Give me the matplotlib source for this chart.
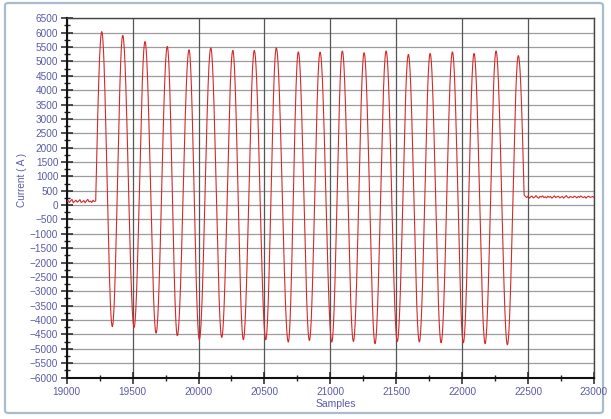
import numpy as np
import matplotlib
matplotlib.use("Agg")
import matplotlib.pyplot as plt
from matplotlib.patches import FancyBboxPatch
from matplotlib.ticker import MultipleLocator

# ---- data ----
peak_samples = [19266, 19425, 19594, 19763, 19928, 20093, 20260, 20423, 20590, 20757,
                20922, 21091, 21256, 21423, 21592, 21757, 21926, 22090, 22257, 22426]
peak_values = [6035, 5905, 5690, 5520, 5400, 5470, 5380, 5380, 5470, 5330,
               5320, 5360, 5300, 5360, 5240, 5275, 5330, 5275, 5360, 5200]
trough_samples = [19346, 19511, 19678, 19839, 20006, 20176, 20340, 20510, 20681, 20841,
                  21011, 21175, 21339, 21508, 21675, 21840, 22009, 22174, 22343]
trough_values = [-4230, -4255, -4455, -4545, -4685, -4605, -4685, -4685, -4765, -4710,
                 -4765, -4745, -4820, -4745, -4765, -4790, -4790, -4820, -4860]

# flat (no-load) segments before and after the burst, every 10 samples
left_samples = list(range(19000, 19230, 10))
left_values = [110, 160, 90, 150, 200, 80, 130, 170, 100, 140, 190, 90, 120, 160, 80,
               150, 200, 110, 140, 90, 170, 120, 150]
right_samples = list(range(22470, 23001, 10))
right_values = [350, 300, 260, 320, 240, 290, 310, 250, 280, 330, 270, 240, 300, 280, 320,
                260, 290, 250, 310, 270, 300, 240, 280, 320, 260, 290, 310, 250, 280, 300,
                240, 290, 330, 270, 250, 300, 280, 260, 310, 290, 250, 300, 270, 320, 280,
                260, 300, 240, 290, 310, 270, 280, 300, 260]

x_ticks = [19000, 19500, 20000, 20500, 21000, 21500, 22000, 22500, 23000]
y_ticks = list(range(-6000, 6501, 500))

# ---- build the trace: half-cosine arcs between successive read extremes ----
ext_t = []
ext_v = []
for i in range(len(peak_samples)):
    ext_t.append(peak_samples[i]); ext_v.append(peak_values[i])
    if i < len(trough_samples):
        ext_t.append(trough_samples[i]); ext_v.append(trough_values[i])

xs = list(left_samples)
ys = list(left_values)
t0, v0 = left_samples[-1], left_values[-1]
t1, v1 = ext_t[0], ext_v[0]
tt = np.arange(t0 + 1, t1 + 1)
xs += list(tt)
ys += list(v0 + (v1 - v0) * np.sin(0.5 * np.pi * (tt - t0) / (t1 - t0)))
for a, va, b, vb in zip(ext_t[:-1], ext_v[:-1], ext_t[1:], ext_v[1:]):
    tt = np.arange(a + 1, b + 1)
    xs += list(tt)
    ys += list((va + vb) / 2 + (va - vb) / 2 * np.cos(np.pi * (tt - a) / (b - a)))
a, va = ext_t[-1], ext_v[-1]
b, vb = right_samples[0], right_values[0]
tt = np.arange(a + 1, b)
xs += list(tt)
ys += list(vb + (va - vb) * np.cos(0.5 * np.pi * (tt - a) / (b - a)))
xs += right_samples
ys += right_values

# ---- figure ----
W, H = 611, 419
fig = plt.figure(figsize=(W / 100, H / 100), dpi=100)
fig.patch.set_facecolor("white")

border = FancyBboxPatch((5 / W, 6 / H), 598 / W, 410 / H,
                        boxstyle="round,pad=0,rounding_size=0.006",
                        transform=fig.transFigure, facecolor="none",
                        edgecolor="#a9bccd", linewidth=1.6, zorder=-1)
fig.patches.append(border)

ax = fig.add_axes([66.7 / W, 1 - 377.5 / H, (594 - 66.7) / W, (377.5 - 18.3) / H])
ax.set_facecolor("white")
ax.set_xlim(19000, 23000)
ax.set_ylim(-6000, 6500)

for yv in y_ticks:
    ax.axhline(yv, color="#9c9c9c", lw=0.9, zorder=1)
for xv in x_ticks:
    ax.axvline(xv, color="#555555", lw=0.9, zorder=1)

ax.plot(xs, ys, color="#d42a2a", lw=0.8, zorder=3)

ax.set_xticks(x_ticks)
ax.set_yticks(y_ticks)
ax.xaxis.set_minor_locator(MultipleLocator(250))
ax.yaxis.set_minor_locator(MultipleLocator(250))
lab_col = "#5a5aa8"
ax.tick_params(axis="both", which="major", direction="inout", length=8, width=1.1,
               color="#222222", labelsize=7.2, labelcolor=lab_col)
ax.tick_params(axis="both", which="minor", direction="inout", length=5, width=1.0,
               color="#222222")
ax.tick_params(axis="y", pad=2)
ax.tick_params(axis="x", pad=3)
for lab in ax.get_xticklabels() + ax.get_yticklabels():
    lab.set_fontfamily("Liberation Sans")

for side in ["left", "bottom"]:
    ax.spines[side].set_linewidth(1.5)
    ax.spines[side].set_color("#111111")
for side in ["top", "right"]:
    ax.spines[side].set_linewidth(1.0)
    ax.spines[side].set_color("#444444")

fig.text(22 / W, 1 - 180 / H, "Current ( A )", rotation=90, ha="center", va="center",
         color=lab_col, fontsize=7.2, family="Liberation Sans")
fig.text(336 / W, 1 - 404 / H, "Samples", ha="center", va="center",
         color=lab_col, fontsize=7.5, family="Liberation Sans")

fig.savefig("out.png", dpi=100)
